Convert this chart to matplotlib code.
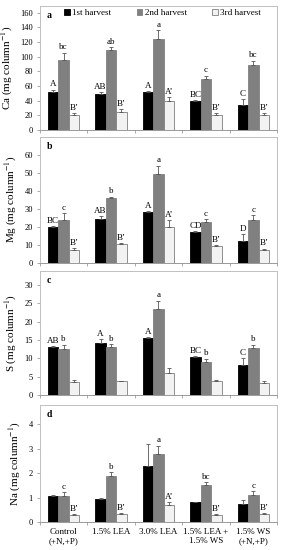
import numpy as np
import matplotlib
matplotlib.use("Agg")
import matplotlib.pyplot as plt

plt.rcParams['font.family'] = ['Liberation Serif', 'DejaVu Serif']
plt.rcParams['mathtext.fontset'] = 'stix'

treatments = ['Control\n(+N,+P)', '1.5% LEA', '3.0% LEA', '1.5% LEA +\n1.5% WS', '1.5% WS\n(+N,+P)']
harvests = ['1st harvest', '2nd harvest', '3rd harvest']

# Ca
ca_h1 = [52, 48.5, 52, 39, 34]
ca_h2 = [95.5, 109, 124.5, 69, 88.5]
ca_h3 = [20, 24, 39.5, 20, 20.5]
ca_e1 = [3, 3, 1, 2, 8]
ca_e2 = [10, 4, 12, 5, 6]
ca_e3 = [3, 4, 5, 3, 3]
ca_l1 = ['A', 'AB', 'A', 'BC', 'C']
ca_l2 = ['bc', 'ab', 'a', 'c', 'bc']
ca_l3 = ["B\u2019", "B\u2019", "A\u2019", "B\u2019", "B\u2019"]

# Mg
mg_h1 = [19.6, 24.3, 28, 16.9, 12]
mg_h2 = [23.9, 35.7, 49.3, 22.8, 23.9]
mg_h3 = [7.0, 10.4, 19.8, 9.3, 7.2]
mg_e1 = [0.5, 1.5, 0.5, 0.7, 4]
mg_e2 = [3.5, 1, 4.6, 1.2, 2.6]
mg_e3 = [1, 0.5, 3.7, 0.5, 0.6]
mg_l1 = ['BC', 'AB', 'A', 'CD', 'D']
mg_l2 = ['c', 'b', 'a', 'c', 'c']
mg_l3 = ["B\u2019", "B\u2019", "A\u2019", "B\u2019", "B\u2019"]

# S
s_h1 = [13.2, 14.3, 15.5, 10.4, 8.2]
s_h2 = [12.6, 13.0, 23.5, 9.1, 12.7]
s_h3 = [3.5, 3.8, 6.1, 3.8, 3.4]
s_e1 = [0.2, 0.9, 0.2, 0.2, 1.9]
s_e2 = [1.1, 0.9, 2.2, 0.8, 1.0]
s_e3 = [0.5, 0.1, 1.3, 0.2, 0.3]
s_l1 = ['AB', 'A', 'A', 'BC', 'C']
s_l2 = ['b', 'b', 'a', 'b', 'b']
s_l3 = ['', '', '', '', '']

# Na
na_h1 = [1.07, 0.95, 2.3, 0.8, 0.72]
na_h2 = [1.07, 1.86, 2.79, 1.51, 1.1]
na_h3 = [0.29, 0.33, 0.69, 0.29, 0.33]
na_e1 = [0.02, 0.03, 0.87, 0.01, 0.18]
na_e2 = [0.15, 0.17, 0.33, 0.13, 0.16]
na_e3 = [0.02, 0.02, 0.14, 0.02, 0.02]
na_l1 = ['', '', '', '', '']
na_l2 = ['c', 'b', 'a', 'bc', 'c']
na_l3 = ["B\u2019", "B\u2019", "A\u2019", "B\u2019", "B\u2019"]

panels = [
    ('a', 'Ca (mg column$^{-1}$)', [ca_h1, ca_h2, ca_h3], [ca_e1, ca_e2, ca_e3], [ca_l1, ca_l2, ca_l3], 169, np.arange(0, 161, 20)),
    ('b', 'Mg (mg column$^{-1}$)', [mg_h1, mg_h2, mg_h3], [mg_e1, mg_e2, mg_e3], [mg_l1, mg_l2, mg_l3], 69.8, np.arange(0, 61, 10)),
    ('c', 'S (mg column$^{-1}$)', [s_h1, s_h2, s_h3], [s_e1, s_e2, s_e3], [s_l1, s_l2, s_l3], 33.9, np.arange(0, 31, 5)),
    ('d', 'Na (mg column$^{-1}$)', [na_h1, na_h2, na_h3], [na_e1, na_e2, na_e3], [na_l1, na_l2, na_l3], 4.78, np.arange(0, 5, 1)),
]

colors = ['black', '#808080', '#f2f2f2']
edges = ['black', '#808080', '#7f7f7f']
boxes = [(0.7636, 0.989), (0.5224, 0.751), (0.2818, 0.508), (0.0509, 0.2636)]

fig = plt.figure(figsize=(2.81, 5.5), dpi=100)
x = np.arange(len(treatments))
w = 0.22

for (tag, ylab, series, errs, labels, ytop, yt), (b0, b1) in zip(panels, boxes):
    ax = fig.add_axes([0.142, b0, 0.844, b1 - b0])
    for i in range(3):
        pos = x + (i - 1) * w
        ax.bar(pos, series[i], w, color=colors[i], edgecolor=edges[i], linewidth=0.6,
               label=harvests[i], zorder=2)
        ax.errorbar(pos, series[i], yerr=[np.zeros(5), errs[i]], fmt='none',
                    ecolor='#555555', elinewidth=0.6, capsize=1.5, capthick=0.6, zorder=3)
        for j in range(5):
            if labels[i][j]:
                ax.text(pos[j], series[i][j] + errs[i][j] + ytop * 0.01, labels[i][j],
                        ha='center', va='bottom', fontsize=6.5)
    ax.set_xlim(-0.5, 4.5)
    ax.set_ylim(0, ytop)
    ax.set_yticks(yt)
    ax.tick_params(axis='y', labelsize=6, length=2, width=0.5, color='#888888', pad=3)
    ax.set_xticks(x)
    ax.set_xticks(np.arange(-0.5, 5, 1), minor=True)
    ax.tick_params(axis='x', which='major', length=0, labelsize=6.5, pad=4)
    ax.tick_params(axis='x', which='minor', length=2.5, width=0.5, color='#888888')
    if tag == 'd':
        ax.set_xticklabels(treatments)
    else:
        ax.set_xticklabels([])
    for s in ['top', 'right', 'left']:
        ax.spines[s].set_color('#c0c0c0')
        ax.spines[s].set_linewidth(0.7)
    ax.spines['bottom'].set_color('#999999')
    ax.spines['bottom'].set_linewidth(0.7)
    ax.set_ylabel(ylab, fontsize=8, labelpad=4)
    ax.text(0.03, 0.96, tag, transform=ax.transAxes, fontsize=7, fontweight='bold',
            va='top', ha='left')
    if tag == 'a':
        ax.legend(loc='upper left', bbox_to_anchor=(0.08, 1.02), ncol=3, frameon=False,
                  fontsize=6.5, handlelength=0.6, handleheight=0.6, handletextpad=0.3,
                  columnspacing=2.8, borderaxespad=0.2)

fig.savefig('out.png', dpi=100)
